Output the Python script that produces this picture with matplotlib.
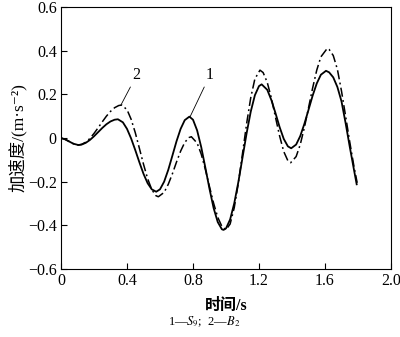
import matplotlib
matplotlib.use("Agg")
import matplotlib.pyplot as plt

# curve 1 (S9), solid
t1 = [0, 0.025, 0.05, 0.075, 0.105, 0.125, 0.15, 0.175, 0.2, 0.225, 0.25, 0.275,
      0.3, 0.325, 0.345, 0.375, 0.4, 0.425, 0.45, 0.475, 0.5, 0.525, 0.55, 0.577,
      0.6, 0.625, 0.65, 0.675, 0.7, 0.725, 0.75, 0.778, 0.8, 0.825, 0.85, 0.875,
      0.9, 0.925, 0.95, 0.975, 0.985, 1.0, 1.025, 1.05, 1.075, 1.1, 1.125, 1.15,
      1.175, 1.2, 1.216, 1.25, 1.275, 1.3, 1.325, 1.35, 1.375, 1.395, 1.425, 1.45,
      1.475, 1.5, 1.525, 1.55, 1.575, 1.606, 1.625, 1.65, 1.675, 1.7, 1.725, 1.75,
      1.775, 1.792]
a1 = [0.000, -0.006, -0.016, -0.026, -0.032, -0.030, -0.022, -0.009, 0.008, 0.027, 0.046, 0.063,
      0.076, 0.084, 0.086, 0.072, 0.042, -0.002, -0.055, -0.111, -0.164, -0.207, -0.235, -0.246,
      -0.235, -0.200, -0.146, -0.081, -0.015, 0.042, 0.082, 0.098, 0.084, 0.035, -0.042, -0.136,
      -0.233, -0.321, -0.385, -0.418, -0.421, -0.414, -0.373, -0.299, -0.201, -0.090, 0.022, 0.121,
      0.196, 0.238, 0.246, 0.221, 0.174, 0.114, 0.050, -0.004, -0.038, -0.047, -0.030, 0.009,
      0.065, 0.129, 0.194, 0.250, 0.290, 0.308, 0.301, 0.278, 0.234, 0.168, 0.068, -0.040,
      -0.143, -0.212]

# curve 2 (B2), dash-dot
t2 = [0, 0.025, 0.05, 0.075, 0.105, 0.125, 0.15, 0.175, 0.2, 0.225, 0.25, 0.275,
      0.3, 0.325, 0.35, 0.368, 0.4, 0.425, 0.45, 0.475, 0.5, 0.525, 0.55, 0.575,
      0.59, 0.625, 0.65, 0.675, 0.7, 0.725, 0.75, 0.775, 0.79, 0.825, 0.85, 0.875,
      0.9, 0.925, 0.95, 0.975, 1.0, 1.025, 1.05, 1.075, 1.1, 1.125, 1.15, 1.175,
      1.206, 1.225, 1.25, 1.275, 1.3, 1.325, 1.35, 1.375, 1.392, 1.425, 1.45, 1.475,
      1.5, 1.525, 1.55, 1.575, 1.614, 1.625, 1.65, 1.675, 1.7, 1.725, 1.75, 1.775,
      1.795]
a2 = [0.000, -0.006, -0.016, -0.026, -0.032, -0.029, -0.019, -0.002, 0.021, 0.047, 0.074, 0.100,
      0.122, 0.139, 0.149, 0.151, 0.130, 0.086, 0.025, -0.047, -0.120, -0.186, -0.236, -0.264,
      -0.269, -0.249, -0.212, -0.164, -0.110, -0.060, -0.020, 0.002, 0.006, -0.023, -0.074, -0.144,
      -0.223, -0.299, -0.363, -0.405, -0.420, -0.394, -0.319, -0.206, -0.071, 0.066, 0.185, 0.271,
      0.311, 0.300, 0.255, 0.183, 0.095, 0.009, -0.062, -0.104, -0.113, -0.085, -0.030, 0.048,
      0.138, 0.229, 0.311, 0.372, 0.411, 0.406, 0.378, 0.315, 0.215, 0.100, -0.018, -0.128,
      -0.205]

xticks = [0, 0.4, 0.8, 1.2, 1.6, 2.0]
xtick_labels = ["0", "0.4", "0.8", "1.2", "1.6", "2.0"]
yticks = [-0.6, -0.4, -0.2, 0, 0.2, 0.4, 0.6]
ytick_labels = ["\u22120.6", "\u22120.4", "\u22120.2", "0", "0.2", "0.4", "0.6"]

serif = ["Liberation Serif", "Noto Sans CJK SC", "DejaVu Serif"]
plt.rcParams["font.family"] = serif
plt.rcParams["mathtext.fontset"] = "stix"

fig = plt.figure(figsize=(4.0, 3.37), dpi=100)
ax = fig.add_axes([0.1525, 0.2018, 0.825, 0.7772])

ax.plot(t1, a1, color="black", lw=1.3, ls="-")
ax.plot(t2, a2, color="black", lw=1.1, ls=(0, (6, 2.2, 1.2, 2.2)))

ax.set_xlim(0, 2.0)
ax.set_ylim(-0.6, 0.6)
ax.set_xticks(xticks)
ax.set_xticklabels(xtick_labels)
ax.set_yticks(yticks)
ax.set_yticklabels(ytick_labels)
ax.tick_params(direction="in", length=4, width=0.8, labelsize=11.5, pad=3)
for s in ax.spines.values():
    s.set_linewidth(0.8)

ax.annotate("2", xy=(0.363, 0.151), xytext=(0.459, 0.289), fontsize=11.5,
            ha="center", va="center",
            arrowprops=dict(arrowstyle="-", lw=0.6, color="black", shrinkA=1, shrinkB=0))
ax.annotate("1", xy=(0.782, 0.097), xytext=(0.903, 0.289), fontsize=11.5,
            ha="center", va="center",
            arrowprops=dict(arrowstyle="-", lw=0.6, color="black", shrinkA=1, shrinkB=0))

ax.set_xlabel("时间/s", fontsize=11.5, labelpad=6, fontweight="bold")
ax.set_ylabel("加速度/(m·s\u207b\u00b2)", fontsize=12.5, labelpad=1)

fig.text(0.51, 0.045, "1—$S_9$;  2—$B_2$", fontsize=9, ha="center", va="center")

fig.savefig("out.png", dpi=100)
